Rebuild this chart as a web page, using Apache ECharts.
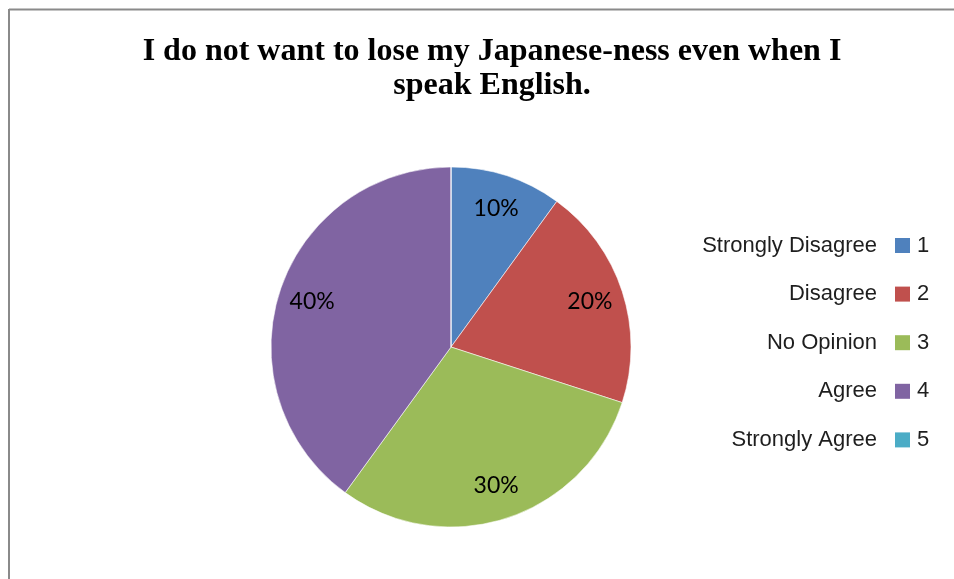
<!DOCTYPE html>
<html>
<head>
<meta charset="utf-8">
<script src="https://cdn.jsdelivr.net/npm/echarts@6/dist/echarts.min.js"></script>
<style>
  html, body { margin: 0; padding: 0; background: #fff; }
  #chart { width: 954px; height: 579px; }
</style>
</head>
<body>
<div id="chart"></div>
<script>
// Survey item and its response scale
const titleText = 'I do not want to lose my Japanese-ness even when I\nspeak English.';
const codes = ['1', '2', '3', '4', '5'];
const descriptions = ['Strongly Disagree', 'Disagree', 'No Opinion', 'Agree', 'Strongly Agree'];
const percents = [10, 20, 30, 40, 0];
const colors = ['#4F81BD', '#C0504D', '#9BBB59', '#8064A2', '#4BACC6'];

const pieData = codes.map((c, i) => ({ name: c, value: percents[i] }));
const descOf = {};
codes.forEach((c, i) => { descOf[c] = descriptions[i]; });

const chart = echarts.init(document.getElementById('chart'), null, { renderer: 'canvas' });

const center = [451, 347];
const outer = 180;
const legendFont = {
  fontFamily: '"Liberation Sans", Arial, sans-serif',
  fontSize: 22,
  lineHeight: 22,
  color: '#1e1e1e'
};

chart.setOption({
  animation: false,
  color: colors,
  title: {
    text: titleText,
    left: 487,
    top: 30,
    textAlign: 'center',
    textStyle: {
      fontFamily: '"Liberation Serif", "Times New Roman", serif',
      fontWeight: 'bold',
      fontSize: 32,
      lineHeight: 34,
      color: '#000'
    }
  },
  legend: [
    {
      // colour squares with the numeric codes
      orient: 'vertical',
      left: 895,
      top: 234.5,
      padding: 0,
      data: codes,
      icon: 'rect',
      itemWidth: 15,
      itemHeight: 15,
      itemGap: 26.6,
      selectedMode: false,
      itemStyle: { borderWidth: 0 },
      textStyle: Object.assign({ padding: [0, 0, 0, 2] }, legendFont)
    },
    {
      // response descriptions, right-aligned before each square
      orient: 'vertical',
      right: 954 - 882,
      top: 234.5,
      padding: 0,
      align: 'right',
      data: codes,
      icon: 'rect',
      itemWidth: 0,
      itemHeight: 15,
      itemGap: 26.6,
      selectedMode: false,
      itemStyle: { opacity: 0, borderWidth: 0 },
      formatter: name => descOf[name],
      textStyle: legendFont
    }
  ],
  graphic: [
    { type: 'line', shape: { x1: 9, y1: 9.5, x2: 954, y2: 9.5 }, style: { stroke: '#8a8a8a', lineWidth: 2 } },
    { type: 'line', shape: { x1: 9, y1: 9, x2: 9, y2: 579 }, style: { stroke: '#8a8a8a', lineWidth: 2 } }
  ],
  series: [
    {
      type: 'pie',
      center: center,
      radius: [0, outer],
      startAngle: 90,
      clockwise: true,
      data: pieData,
      label: { show: false },
      labelLine: { show: false },
      emphasis: { disabled: true },
      itemStyle: { borderColor: 'rgba(255,255,255,0.7)', borderWidth: 0.8 }
    },
    {
      // transparent ring that only carries the percentage labels
      type: 'pie',
      center: center,
      radius: [106, outer],
      startAngle: 90,
      clockwise: true,
      silent: true,
      data: pieData,
      itemStyle: { color: 'rgba(0,0,0,0)', borderWidth: 0 },
      emphasis: { disabled: true },
      labelLine: { show: false },
      label: {
        show: true,
        position: 'inside',
        formatter: p => (p.value > 0 ? p.value + '%' : ''),
        fontFamily: 'Lato, "Open Sans", sans-serif',
        fontSize: 23,
        color: '#000'
      }
    }
  ]
});
</script>
</body>
</html>
